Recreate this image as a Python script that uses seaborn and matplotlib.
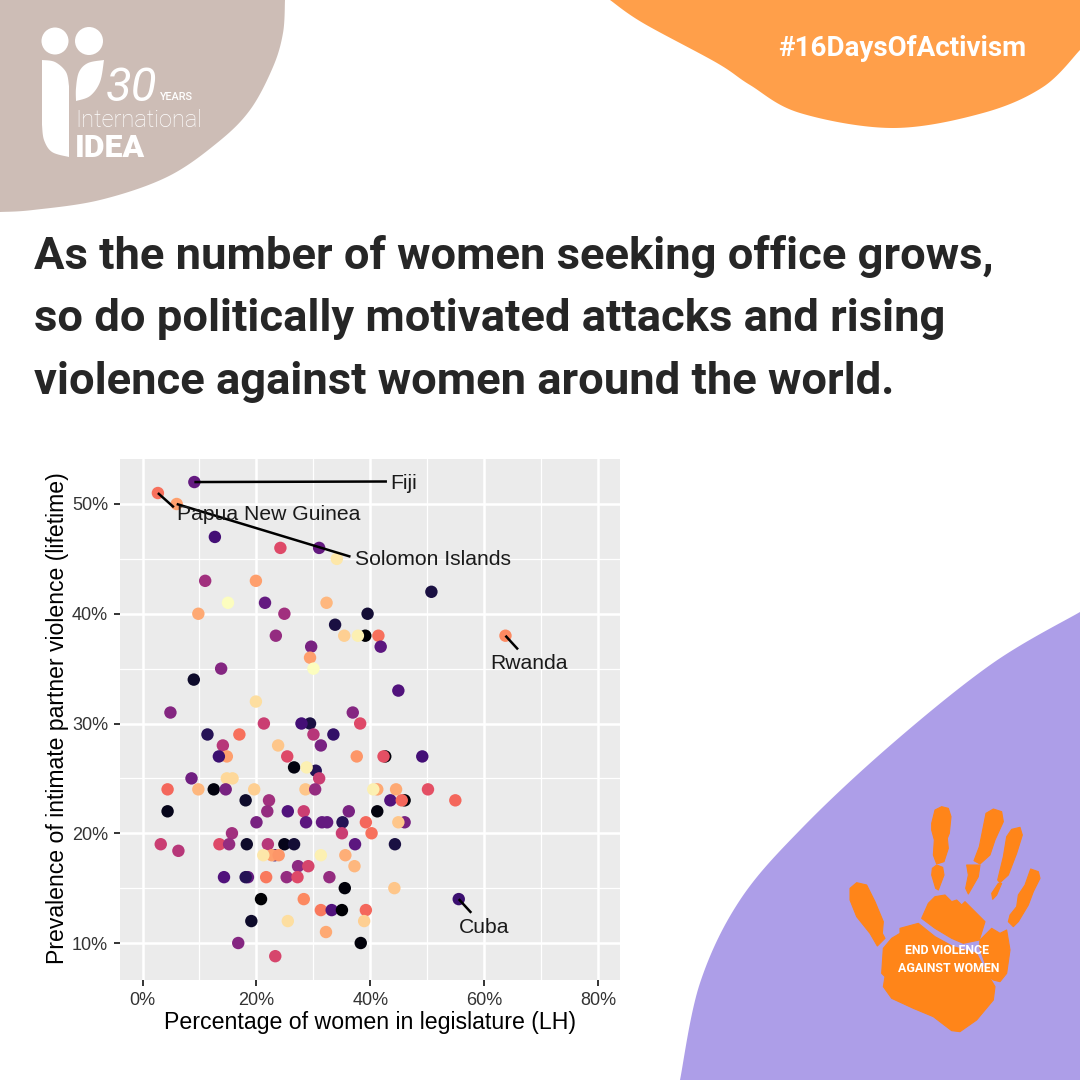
import numpy as np
import pandas as pd
import seaborn as sns
import matplotlib
matplotlib.use("Agg")
import matplotlib.pyplot as plt
from matplotlib.patches import Polygon, Circle
from matplotlib.ticker import FuncFormatter, MultipleLocator

women_pct = [9.1,2.7,6.0,12.7,24.2,31.0,34.1,11.0,19.9,15.0,21.5,32.3,9.8,24.9,39.5,33.8,23.4,35.4,39.1,37.8,41.4,41.8,
 29.6,29.4,30.0,13.8,9.0,19.9,4.9,36.9,44.9,50.7,63.7,38.2,29.4,27.9,21.3,30.0,33.5,11.4,17.0,14.1,23.8,31.3,14.8,13.4,
 25.4,37.6,42.6,42.3,49.1,26.6,30.4,28.8,31.0,14.8,15.8,8.6,4.4,9.8,12.5,14.6,19.6,28.6,30.3,41.2,40.5,44.5,50.1,54.9,
 43.5,46.0,45.5,18.1,22.2,21.9,25.5,28.3,36.2,41.2,4.4,20.0,28.7,31.5,32.4,35.1,39.2,46.0,44.9,15.7,35.0,40.2,3.2,6.3,
 13.5,15.2,18.3,22.0,24.9,26.6,37.3,44.3,23.2,22.7,23.9,21.2,31.3,35.6,37.2,27.3,29.1,14.3,18.5,18.1,21.7,25.3,27.2,
 32.8,35.5,44.2,20.8,28.3,55.5,31.3,33.2,35.0,39.2,19.1,25.5,38.9,32.2,16.8,38.3,23.3]
violence_pct = [52,51,50,47,46,46,45,43,43,41,41,41,40,40,40,39,38,38,38,38,38,37,
 37,36,35,35,34,32,31,31,33,42,38,30,30,30,30,29,29,29,29,28,28,28,27,27,
 27,27,27,27,27,26,25.7,26,25,25,25,25,24,24,24,24,24,24,24,24,24,24,24,23,
 23,23,23,23,23,22,22,22,22,22,22,21,21,21,21,21,21,21,21,20,20,20,19,18.4,
 19,19,19,19,19,19,19,19,18,18,18,18,18,18,17,17,17,16,16,16,16,16,16,
 16,15,15,14,14,14,13,13,13,13,12,12,12,11,10,10,8.8]
shade = [.30,.70,.80,.22,.60,.30,.95,.45,.80,1.0,.30,.85,.82,.45,.10,.12,.42,.90,.0,.97,.70,.28,
 .35,.80,1.0,.38,.08,.93,.38,.38,.25,.12,.75,.60,.12,.22,.55,.50,.18,.15,.70,.50,.88,.35,.80,.20,
 .60,.78,.02,.62,.22,.03,.15,.97,.55,.92,.92,.33,.68,.85,.03,.35,.90,.88,.42,.82,.97,.82,.62,.68,
 .25,.02,.68,.08,.45,.42,.25,.55,.35,.03,.05,.35,.28,.30,.30,.15,.68,.35,.88,.45,.55,.70,.55,.50,
 .60,.42,.08,.50,.05,.10,.28,.12,.20,.80,.78,.95,.97,.83,.85,.40,.58,.25,.30,.15,.72,.42,.60,
 .42,.02,.88,.0,.75,.20,.72,.25,.0,.68,.08,.93,.90,.82,.38,.02,.58]

label_names = ["Fiji","Papua New Guinea","Solomon Islands","Rwanda","Cuba"]
point_x = [9.1,2.7,6.0,63.7,55.5]
point_y = [52,51,50,38,14]
line_end_x = [42.9,5.5,36.5,65.9,57.7]
line_end_y = [52.05,49.7,45.2,36.75,12.75]
label_x = [43.4,6.05,37.3,61.1,55.5]
label_y = [51.85,49.0,44.9,35.5,11.4]

title_lines = ["As the number of women seeking office grows,",
               "so do politically motivated attacks and rising",
               "violence against women around the world."]
title_y = [256,319,382]

def smooth(points, n=24):
    p = np.array([points[0]] + list(points) + [points[-1]], float)
    out = []
    for i in range(1, len(p)-2):
        for t in np.linspace(0, 1, n, endpoint=False):
            out.append(0.5*((2*p[i]) + (-p[i-1]+p[i+1])*t + (2*p[i-1]-5*p[i]+4*p[i+1]-p[i+2])*t**2
                            + (-p[i-1]+3*p[i]-3*p[i+1]+p[i+2])*t**3))
    out.append(p[-2])
    return np.array(out)

sns.set_theme(style="white")
plt.rcParams['font.family'] = ['Liberation Sans', 'DejaVu Sans']
fig = plt.figure(figsize=(10.8, 10.8), dpi=100, facecolor="white")

bg = fig.add_axes([0, 0, 1, 1], zorder=0)
bg.set_xlim(0, 1080); bg.set_ylim(1080, 0); bg.axis("off")

brown = smooth([(0,212),(33,210),(100,200),(167,177),(217,143),(250,110),(273,67),(283,33),(285,0)])
bg.add_patch(Polygon(np.vstack([brown, [(0,0)]]), fc="#CDBDB6", ec="none"))
orange = smooth([(610,0),(643,23),(717,63),(750,85),(800,113),(893,128),(983,113),(1043,87),(1080,50)])
bg.add_patch(Polygon(np.vstack([orange, [(1080,0)]]), fc="#FF9F4A", ec="none"))
purple = smooth([(680,1080),(700,983),(740,900),(803,827),(893,743),(993,663),(1080,612)])
bg.add_patch(Polygon(np.vstack([purple, [(1080,1080)]]), fc="#AD9EE8", ec="none"))

# logo
bg.add_patch(Circle((55,41), 13.5, fc="white", ec="none"))
bg.add_patch(Circle((89,41), 14, fc="white", ec="none"))
left_body = smooth([(42,60),(55,62),(66,72),(69,86)], 8).tolist() + [(69,157)] + smooth([(69,157),(52,152),(44,140),(42,125)], 8).tolist()
bg.add_patch(Polygon(left_body, fc="white", ec="none"))
leaf = smooth([(104,60),(88,63),(79,72),(76,88),(76,101)], 8).tolist() + smooth([(76,101),(90,96),(100,82),(104,60)], 8).tolist()
bg.add_patch(Polygon(leaf, fc="white", ec="none"))
bg.text(106, 101, "30", color="white", fontsize=34, family="Roboto", style="italic", fontweight="regular", va="baseline")
bg.text(160, 100, "YEARS", color="white", fontsize=7.8, family="Roboto", fontweight="medium", va="baseline")
bg.text(75, 127, "International", color="white", fontsize=17, family="Roboto", fontweight="light", va="baseline")
bg.text(75, 157, "IDEA", color="white", fontsize=23, family="Roboto", fontweight="black", va="baseline")

bg.text(778, 49, "#16DaysOfActivism", color="white", fontsize=20, family="Roboto", fontweight="bold", va="center")

for s, y in zip(title_lines, title_y):
    bg.text(34, y, s, color="#262626", fontsize=32.7, family="Roboto", fontweight="bold", va="center")

# hand, outlined in the crop grid of a 3x view anchored at (820,790)
hand_parts = [
 [(335,100),(345,60),(365,50),(385,55),(393,80),(388,130),(382,145),(385,175),(372,215),(350,222),(340,195),(343,150),(335,120)],
 [(337,235),(350,225),(368,232),(372,255),(355,300),(347,295),(335,255)],
 [(498,70),(520,57),(545,65),(550,95),(525,150),(510,195),(480,222),(462,212),(478,170),(490,110)],
 [(440,225),(480,225),(475,260),(445,312),(437,295),(445,255)],
 [(575,118),(600,112),(607,135),(590,190),(565,255),(540,278),(533,270),(550,200),(560,140)],
 [(535,280),(545,280),(530,315),(518,328),(515,310)],
 [(632,237),(655,245),(660,265),(640,305),(625,345),(595,395),(580,410),(565,395),(570,375),(590,350),(595,315),(615,285)],
 [(90,295),(110,278),(140,285),(165,335),(190,395),(187,430),(195,445),(172,468),(150,430),(110,380),(90,330)],
 [(305,385),(325,340),(345,320),(375,315),(395,335),(410,330),(425,345),(435,335),(495,395),(478,450),(430,460),(395,445),(345,415)],
 [(190,475),(215,445),(240,430),(240,415),(295,400),(345,440),(400,470),(470,490),(490,530),(525,590),(520,630),(470,690),(420,725),(395,722),(340,680),(280,655),(215,625),(190,590),(195,560),(185,550)],
 [(480,450),(515,415),(540,430),(560,420),(570,480),(560,550),(540,575),(520,570),(495,550),(495,520),(478,470)],
]
for part in hand_parts:
    pts = np.array(part, float)/3 + [820, 790]
    bg.add_patch(Polygon(pts, fc="#FF8519", ec="#FF8519", lw=0.8, joinstyle="round"))
bg.text(947, 951, "END VIOLENCE", color="white", fontsize=8.9, family="Roboto", fontweight="bold", ha="center", va="center")
bg.text(948.5, 968, "AGAINST WOMEN", color="white", fontsize=8.9, family="Roboto", fontweight="bold", ha="center", va="center")

# chart
ax = fig.add_axes([120/1080, 1-980/1080, 500/1080, 521/1080], zorder=2)
df = pd.DataFrame({"women": women_pct, "violence": violence_pct, "shade": shade})
sns.scatterplot(data=df, x="women", y="violence", hue="shade", palette="magma", hue_norm=(0, 1),
                s=80, linewidth=0, legend=False, ax=ax, zorder=3, clip_on=False)
ax.set_facecolor("#EBEBEB")
ax.set_xlim(-3.95, 83.8)
ax.set_ylim(6.63, 54.1)
for sp in ax.spines.values():
    sp.set_visible(False)
pct = FuncFormatter(lambda v, _: f"{v:.0f}%")
ax.xaxis.set_major_locator(MultipleLocator(20)); ax.xaxis.set_minor_locator(MultipleLocator(10))
ax.yaxis.set_major_locator(MultipleLocator(10)); ax.yaxis.set_minor_locator(MultipleLocator(5))
ax.xaxis.set_major_formatter(pct); ax.yaxis.set_major_formatter(pct)
ax.grid(True, which="major", color="white", lw=1.8, zorder=1)
ax.grid(True, which="minor", color="white", lw=0.9, zorder=1)
ax.set_axisbelow(True)
ax.tick_params(axis="both", which="major", bottom=True, left=True, length=4.5, width=1.4, color="#333333",
               labelsize=13, labelcolor="#333333", pad=4)
ax.tick_params(axis="both", which="minor", length=0)
ax.set_xlabel("Percentage of women in legislature (LH)", fontsize=16.7, color="black", va="center")
ax.xaxis.set_label_coords(0.5, -(1023-980)/521)
ax.set_ylabel("Prevalence of intimate partner violence (lifetime)", fontsize=16.6, color="black", va="center")
ax.yaxis.set_label_coords(-(120-58)/500, (980-718)/521)
for i, name in enumerate(label_names):
    ax.plot([point_x[i], line_end_x[i]], [point_y[i], line_end_y[i]], color="black", lw=1.8, zorder=4, solid_capstyle="butt")
    ax.text(label_x[i], label_y[i], name, fontsize=15.2, color="#1a1a1a", va="center", ha="left", zorder=5)

fig.savefig("out.png", dpi=100)
